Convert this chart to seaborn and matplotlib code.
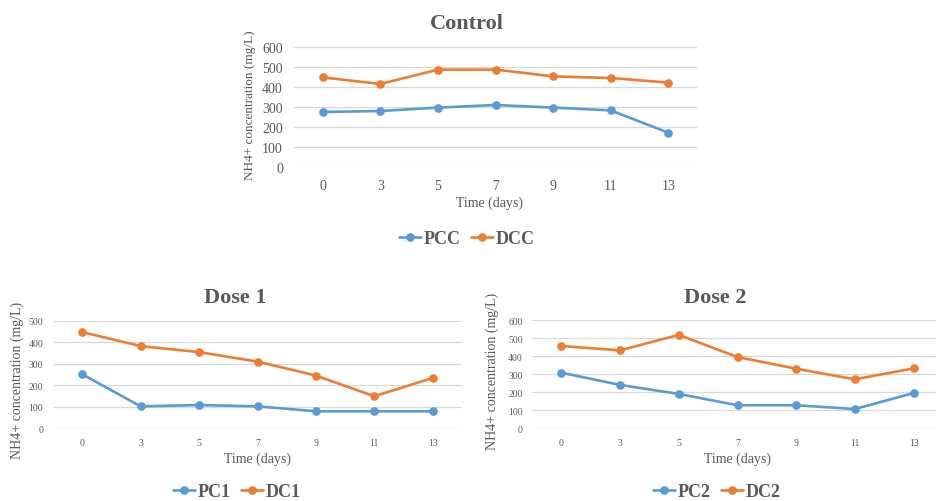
import matplotlib
matplotlib.use("Agg")
import matplotlib.pyplot as plt
import seaborn as sns
import pandas as pd

days = ["0", "3", "5", "7", "9", "11", "13"]

pcc = [275, 280, 297, 310, 297, 283, 172]
dcc = [448, 415, 487, 487, 453, 445, 422]

pc1 = [251, 102, 108, 102, 79, 79, 79]
dc1 = [447, 382, 354, 310, 245, 149, 234]

pc2 = [309, 241, 191, 128, 128, 107, 196]
dc2 = [457, 433, 519, 396, 331, 272, 333]

panels = [
    ("Control", "PCC", pcc, "DCC", dcc, 600),
    ("Dose 1", "PC1", pc1, "DC1", dc1, 500),
    ("Dose 2", "PC2", pc2, "DC2", dc2, 600),
]

BLUE = "#5B9BD5"
ORANGE = "#ED7D31"
GRAY = "#595959"
GRID = "#D9D9D9"

sns.set_theme(style="white")
plt.rcParams["font.family"] = ["Liberation Serif", "DejaVu Serif"]

W, H = 936, 502
fig = plt.figure(figsize=(W / 100, H / 100), dpi=100)

# pixel boxes: left, right, top(ymax gridline), bottom(0)
boxes = [(294, 697, 48, 168), (53, 462, 321.7, 429.3), (532, 943, 321.3, 429.3)]
styles = [
    dict(tick=10, ypad=8, xpad=9, ylab=(250, 105), xlab=(490, 203), title=(467, 24), leg=(467, 240), tsize=16, lsize=13, ysize=9.5),
    dict(tick=7, ypad=7, xpad=7, ylab=(17, 380), xlab=(258, 459), title=(235, 298), leg=(237, 493), tsize=16, lsize=13, ysize=10),
    dict(tick=7, ypad=6.5, xpad=7, ylab=(492, 371), xlab=(738, 459), title=(715, 298), leg=(717, 493), tsize=16, lsize=13, ysize=10),
]


def to_axes(ax_box, px, py):
    l, r, t, b = ax_box
    return (px - l) / (r - l), (b - py) / (b - t)


for (title, n1, v1, n2, v2, ymax), box, st in zip(panels, boxes, styles):
    l, r, t, b = box
    ax = fig.add_axes([l / W, (H - b) / H, (r - l) / W, (b - t) / H])
    df = pd.DataFrame({
        "day": days * 2,
        "value": v1 + v2,
        "series": [n1] * len(days) + [n2] * len(days),
    })
    sns.pointplot(data=df, x="day", y="value", hue="series", order=days,
                  hue_order=[n1, n2], palette=[BLUE, ORANGE], markers="o",
                  linestyles="-", errorbar=None, ax=ax,
                  markersize=4.8, linewidth=1.9)
    ax.set_xlim(-0.5, len(days) - 0.5)
    ax.set_ylim(0, ymax)
    ax.set_yticks(range(0, ymax + 1, 100))
    ax.yaxis.grid(True, color=GRID, linewidth=0.9)
    ax.xaxis.grid(False)
    ax.set_axisbelow(True)
    for s in ax.spines.values():
        s.set_visible(False)
    ax.tick_params(axis="y", length=0, pad=st["ypad"], labelsize=st["tick"], labelcolor=GRAY)
    ax.tick_params(axis="x", length=0, pad=st["xpad"], labelsize=st["tick"], labelcolor=GRAY)

    ax.set_ylabel("NH4+ concentration (mg/L)", fontsize=st["ysize"], color=GRAY)
    ax.yaxis.label.set_va("center")
    ax.yaxis.label.set_ha("center")
    ax.yaxis.set_label_coords(*to_axes(box, *st["ylab"]))

    ax.set_xlabel("Time (days)", fontsize=10, color=GRAY)
    ax.xaxis.label.set_va("center")
    ax.xaxis.set_label_coords(*to_axes(box, *st["xlab"]))

    tx, ty = to_axes(box, *st["title"])
    ax.set_title(title, fontsize=st["tsize"], fontweight="bold", color=GRAY, x=tx, y=ty, pad=0)
    ax.title.set_va("center")

    lx, ly = to_axes(box, *st["leg"])
    sns.move_legend(ax, "center", bbox_to_anchor=(lx, ly), ncol=2, frameon=False,
                    title=None, handlelength=1.2, handletextpad=0.15,
                    columnspacing=0.6, prop={"size": st["lsize"], "weight": "bold"})
    for txt in ax.get_legend().get_texts():
        txt.set_color(GRAY)

fig.savefig("out.png", dpi=100, facecolor="white")
